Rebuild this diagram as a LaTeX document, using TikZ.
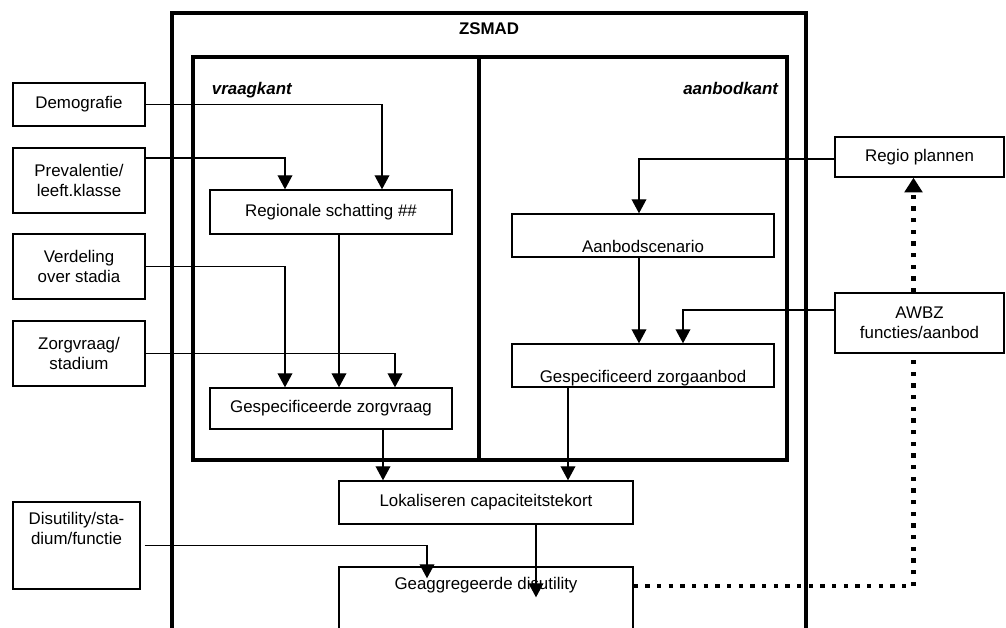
\documentclass[tikz,border=0pt]{standalone}
\usepackage{fontspec}
\setmainfont{Liberation Sans}
\usetikzlibrary{arrows.meta,calc}

\tikzset{
    blok/.style={draw, line width=0.95pt, rectangle, align=center, inner sep=2pt},
    pijl/.style={line width=0.95pt, -{Triangle[length=10pt,width=10.5pt]}},
    kader/.style={line width=2.9pt},
    stippel/.style={line width=3pt, dash pattern=on 3pt off 5.3pt},
    tekstonder/.style={label={[anchor=base,yshift=3.5pt]south:#1}},
    tekstboven/.style={label={[anchor=base,yshift=-16.3pt]north:#1}},
}

\begin{document}
\begin{tikzpicture}[x=0.025cm, y=-0.025cm, font=\fontsize{12}{14.2}\selectfont]
        \useasboundingbox (0,0) rectangle (1006,628);
        \clip (0,0) rectangle (1006,628);

        % kaders
        \draw[kader] (172,640) -- (172,13) -- (806,13) -- (806,640);
        \node[font=\fontsize{12}{14.2}\selectfont\bfseries, anchor=base] (titel) at (489,35) {ZSMAD};
        \draw[kader] (193,57) rectangle (787,460);
        \draw[kader] (479,57) -- (479,460);
        \node[font=\fontsize{12}{14.2}\selectfont\bfseries\itshape, anchor=base west] (vraag) at (207,95) {vraagkant};
        \node[font=\fontsize{12}{14.2}\selectfont\bfseries\itshape, anchor=base east] (aanbod) at (783,95) {aanbodkant};

        % invoer links
        \node[blok, minimum width=3.3cm, minimum height=1.075cm] (demo) at (79,104.5) {Demografie};
        \node[blok, minimum width=3.3cm, minimum height=1.625cm] (prev) at (79,180.5) {Prevalentie/\\leeft.klasse};
        \node[blok, minimum width=3.3cm, minimum height=1.625cm] (verd) at (79,266.5) {Verdeling\\over stadia};
        \node[blok, minimum width=3.3cm, minimum height=1.625cm] (zorgv) at (79,353.5) {Zorgvraag/\\stadium};
        \node[blok, minimum width=3.175cm, minimum height=2.175cm,
            label={[align=center,anchor=north,yshift=-4pt]north:{Disutility/sta-\\dium/functie}}] (disut) at (76.5,545.5) {};

        % vraagkant
        \node[blok, minimum width=6.05cm, minimum height=1.1cm] (regschat) at (331,212) {Regionale schatting \#\#};
        \node[blok, minimum width=6.05cm, minimum height=1.025cm] (gzv) at (331,408.5) {Gespecificeerde zorgvraag};

        % aanbodkant
        \node[blok, minimum width=6.55cm, minimum height=1.075cm, tekstonder=Aanbodscenario] (aanb) at (643,235.5) {};
        \node[blok, minimum width=6.55cm, minimum height=1.075cm, tekstonder=Gespecificeerd zorgaanbod] (gza) at (643,365.5) {};

        % onderin
        \node[blok, minimum width=7.35cm, minimum height=1.075cm] (lokal) at (486,502.5) {Lokaliseren capaciteitstekort};
        \node[blok, minimum width=7.35cm, minimum height=2.075cm, tekstboven=Geaggregeerde disutility] (geagg) at (486,608.5) {};

        % invoer rechts
        \node[blok, minimum width=4.225cm, minimum height=1cm] (regio) at (919.5,157) {Regio plannen};
        \node[blok, minimum width=4.225cm, minimum height=1.5cm] (awbz) at (919.5,323) {AWBZ\\functies/aanbod};

        % pijlen vraagkant
        \draw[pijl] (demo.east) -| ($(regschat.north)+(51,0)$);
        \draw[pijl] ($(prev.east)+(0,-22.5)$) -| ($(regschat.north)+(-46,0)$);
        \draw[pijl] ($(regschat.south)+(8,0)$) -- ($(gzv.north)+(8,0)$);
        \draw[pijl] (verd.east) -| ($(gzv.north)+(-46,0)$);
        \draw[pijl] (zorgv.east) -| ($(gzv.north)+(64,0)$);
        \draw[pijl] ($(gzv.south)+(52,0)$) -- ($(lokal.north)+(-103,0)$);

        % pijlen aanbodkant
        \draw[pijl] ($(regio.west)+(0,2)$) -| ($(aanb.north)+(-4,0)$);
        \draw[pijl] ($(aanb.south)+(-4,0)$) -- ($(gza.north)+(-4,0)$);
        \draw[pijl] ($(awbz.west)+(0,-13)$) -| ($(gza.north)+(40,0)$);
        \draw[pijl] ($(gza.south)+(-75,0)$) -- ($(lokal.north)+(82,0)$);

        % pijlen onderin
        \draw[pijl] ($(lokal.south)+(50,0)$) -- ($(geagg.north)+(50,31)$);
        \draw[pijl] ($(disut.east)+(4,0)$) -| ($(geagg.north)+(-59,12)$);

        % terugkoppeling
        \draw[stippel] ($(geagg.north east)+(0,20)$) -| ($(awbz.south)+(-6,0)$);
        \draw[stippel, -{Triangle[length=10.5pt,width=12.5pt]}] ($(awbz.north)+(-6,0)$) -- ($(regio.south)+(-6,0)$);
    \end{tikzpicture}
\end{document}
